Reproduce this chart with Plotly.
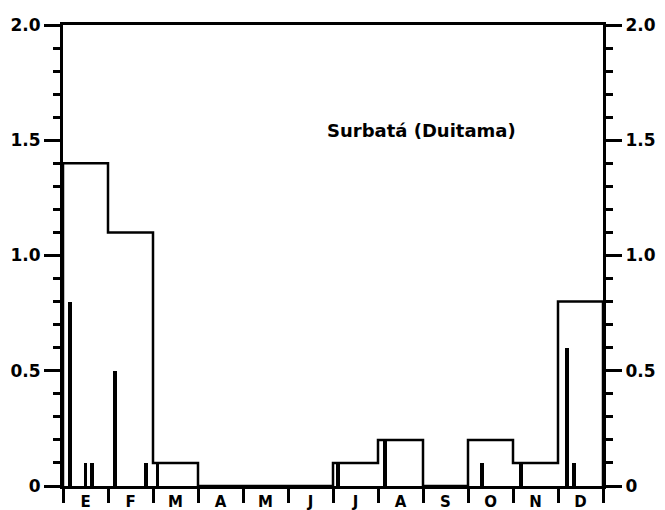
import plotly.graph_objects as go

# ---- data ----
months = ["E", "F", "M", "A", "M", "J", "J", "A", "S", "O", "N", "D"]
monthly_values = [1.4, 1.1, 0.1, 0.0, 0.0, 0.0, 0.1, 0.2, 0.0, 0.2, 0.1, 0.8]
event_positions = [0.16, 0.5, 0.65, 1.16, 1.84, 2.1, 6.11, 7.15, 9.31, 10.17, 11.2, 11.36]
event_values = [0.8, 0.1, 0.1, 0.5, 0.1, 0.1, 0.1, 0.2, 0.1, 0.1, 0.6, 0.1]
y_tick_vals = [0, 0.5, 1.0, 1.5, 2.0]
y_tick_text = ["0", "0.5", "1.0", "1.5", "2.0"]
title_text = "Surbatá (Duitama)"

FONT = "DejaVu Sans"
n = len(months)

# step outline of monthly totals
step_x = [0] + list(range(n)) + [n]
step_y = [0] + monthly_values + [0]

fig = go.Figure()
fig.add_trace(go.Scatter(
    x=step_x, y=step_y, mode="lines", line=dict(color="black", width=2.5, shape="hv"),
    hoverinfo="skip", showlegend=False))
fig.add_trace(go.Bar(
    x=event_positions, y=event_values, width=0.085, marker=dict(color="black", line=dict(width=0)),
    hoverinfo="skip", showlegend=False))
# invisible trace to show the right axis
fig.add_trace(go.Scatter(
    x=step_x, y=step_y, yaxis="y2", mode="lines", line=dict(width=0, color="rgba(0,0,0,0)"),
    hoverinfo="skip", showlegend=False))

axis_font = dict(family=FONT, size=17, color="black", weight="bold")

fig.update_layout(
    width=665, height=510,
    margin=dict(l=63, r=62, t=25, b=24),
    paper_bgcolor="white", plot_bgcolor="white",
    bargap=0,
    xaxis=dict(
        range=[0, n], tickmode="array", automargin=False,
        tickvals=[i + 0.5 for i in range(n)], ticktext=months,
        ticks="", showgrid=False, zeroline=False,
        showline=True, linecolor="black", linewidth=3, mirror=True,
        tickfont=dict(family=FONT, size=15, color="black", weight="bold"),
        ticklabelstandoff=0,
        minor=dict(tickmode="linear", tick0=0, dtick=1, ticks="outside",
                   ticklen=14, tickwidth=2.5, tickcolor="black", showgrid=False),
    ),
    yaxis=dict(
        range=[0, 2.0], tickmode="array", tickvals=y_tick_vals, ticktext=y_tick_text,
        automargin=False,
        ticks="outside", ticklen=16, tickwidth=2.5, tickcolor="black",
        showgrid=False, zeroline=False,
        showline=True, linecolor="black", linewidth=3,
        tickfont=axis_font,
        minor=dict(dtick=0.1, tick0=0, ticks="outside", ticklen=7, tickwidth=2.5,
                   tickcolor="black", showgrid=False),
    ),
    yaxis2=dict(
        range=[0, 2.0], overlaying="y", side="right", tickmode="array",
        tickvals=y_tick_vals, ticktext=y_tick_text, automargin=False,
        ticks="outside", ticklen=16, tickwidth=2.5, tickcolor="black",
        showgrid=False, zeroline=False,
        showline=True, linecolor="black", linewidth=3,
        tickfont=axis_font,
        minor=dict(dtick=0.1, tick0=0, ticks="outside", ticklen=7, tickwidth=2.5,
                   tickcolor="black", showgrid=False),
    ),
    annotations=[dict(
        text=title_text, xref="paper", yref="paper", x=0.663, y=0.772,
        showarrow=False, font=dict(family=FONT, size=18, color="black", weight="bold"),
        xanchor="center", yanchor="middle")],
)

fig.write_html("out.html")
